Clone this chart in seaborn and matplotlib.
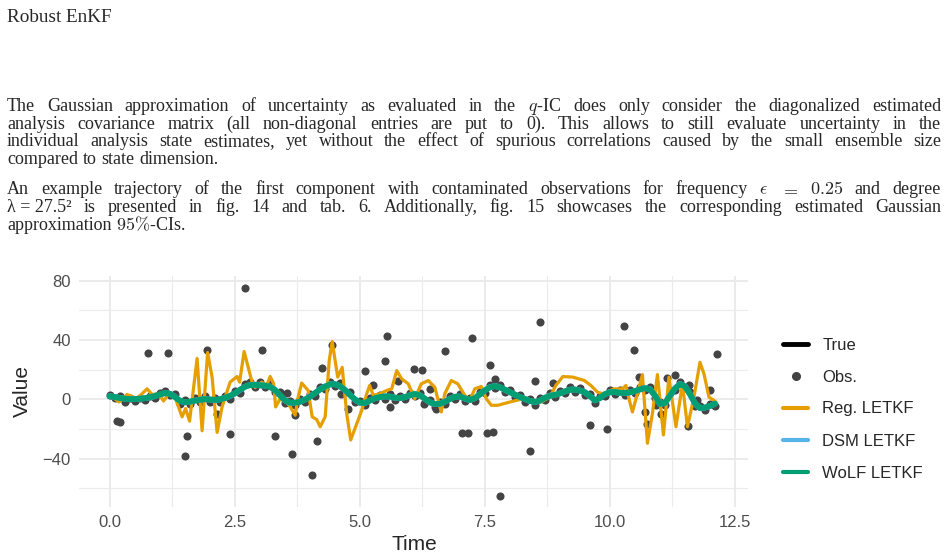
import matplotlib
matplotlib.use("Agg")
import matplotlib.pyplot as plt
from matplotlib.lines import Line2D
import numpy as np
import pandas as pd
import seaborn as sns

# ---- data ----
# true state, first component, on a 0.1 time grid starting at 0.0
truth = [2.5, 2.0, 1.0, 0.3, 0.0, 0.0, 0.2, 0.6, 1.2, 2.0,
         3.2, 4.5, 4.2, 2.0, -1.0, -2.2, -1.5, -0.8, -0.2, 0.3,
         0.0, -0.5, -0.2, 0.8, 2.0, 3.8, 6.2, 8.5, 10.0, 10.2,
         9.8, 9.6, 9.0, 6.8, 3.0, -0.8, -2.5, -2.2, -1.6, -0.2,
         1.8, 4.2, 6.8, 8.8, 10.3, 10.5, 9.2, 6.5, 3.0, -0.2,
         -2.5, -2.6, -0.8, 0.8, 1.5, 2.0, 1.8, 1.0, 0.8, 1.5,
         2.8, 3.8, 2.8, 0.2, -2.2, -3.3, -3.0, -1.5, 0.5, 2.0,
         2.0, 0.5, -0.6, 0.8, 3.5, 6.2, 8.4, 9.2, 8.2, 6.5,
         4.8, 3.2, 1.5, 0.2, -1.2, -2.0, -0.8, 1.2, 2.6, 3.0,
         4.0, 5.5, 6.6, 6.8, 6.0, 4.8, 2.2, -1.0, 0.8, 3.6,
         5.0, 5.0, 4.4, 4.2, 4.6, 5.6, 6.8, 7.8, 7.0, 2.5,
         -3.5, -2.5, 2.5, 7.5, 10.6, 9.0, 3.5, -3.0, -6.2, -5.8,
         -4.6, -3.0]

# observations close to the truth, same grid
obs_near = [3.0, 1.0, 2.0, -1.5, 1.2, -0.8, 1.0, -0.5, 2.5, 0.8,
            4.5, 5.8, 3.0, 3.5, -3.0, -0.5, -3.0, 1.0, -2.0, 2.0,
            -1.8, 1.2, -2.0, 2.5, 0.5, 5.5, 4.5, 10.5, 12.0, 8.5,
            11.5, 8.0, 11.0, 5.0, 4.8, -2.5, -0.8, -4.0, 0.2, -2.0,
            3.5, 2.5, 8.5, 7.0, 12.0, 9.0, 10.8, 5.0, 4.8, -2.0,
            -1.0, -4.0, 0.8, -0.5, 3.0, 0.5, 3.5, -0.5, 2.5, 0.0,
            4.2, 2.2, 4.5, -1.5, -0.5, -5.0, -1.5, -3.2, 2.0, 0.5,
            3.5, -1.0, 1.0, -1.0, 5.0, 4.5, 10.0, 7.5, 10.0, 5.0,
            6.5, 1.5, 3.0, -1.5, 0.2, -3.5, 0.8, -0.5, 4.0, 1.5,
            5.5, 4.0, 8.0, 5.2, 7.5, 3.2, 3.8, -2.5, 2.2, 2.0,
            6.5, 3.5, 6.0, 3.0, 6.0, 4.0, 8.5, 6.2, 8.5, 1.0,
            -2.0, -4.0, 4.0, 6.0, 12.0, 7.5, 5.0, -4.5, -4.8, -7.5,
            -3.0, -4.5]

# contaminated observations (outliers)
out_time = [0.15, 0.21, 0.76, 1.16, 1.51, 1.55, 1.95, 2.15, 2.4, 2.7,
            3.04, 3.31, 3.55, 3.65, 3.71, 4.05, 4.15, 4.25, 4.45, 4.62,
            4.76, 5.1, 5.26, 5.5, 5.55, 5.6, 5.77, 6.09, 6.25, 6.28,
            6.4, 6.53, 6.7, 7.05, 7.16, 7.25, 7.55, 7.6, 7.66, 7.7,
            7.8, 8.41, 8.5, 8.6, 8.87, 9.6, 9.95, 10.29, 10.49, 10.59,
            10.7, 10.75, 10.92, 11.02, 11.15, 11.3, 11.56, 11.59, 11.74, 12.0,
            12.15]
out_value = [-14.5, -15.6, 31.0, 31.0, -38.0, -24.7, 33.4, -9.6, -23.4, 75.4,
             33.2, -24.7, 4.2, -37.0, -10.7, -51.3, -28.3, 21.0, 36.8, 3.3,
             -6.2, 19.0, 9.4, 26.0, 42.8, -5.1, 12.7, 20.3, 19.8, -2.9,
             7.1, -6.5, 32.8, -23.0, -23.0, 41.5, -23.0, 23.2, -21.9, 13.8,
             -65.3, -34.8, 12.5, 52.4, 11.1, -17.6, -20.0, 49.5, 33.4, 15.4,
             -8.5, -16.5, -4.0, -9.6, 14.5, 16.7, -17.8, 9.4, -0.7, 6.0,
             30.5]

# regular LETKF analysis (turning points)
reg_time = [0.02, 0.19, 0.35, 0.55, 0.75, 0.85, 0.98, 1.08, 1.18, 1.32,
            1.45, 1.52, 1.6, 1.75, 1.85, 1.96, 2.05, 2.15, 2.25, 2.41,
            2.55, 2.6, 2.69, 2.84, 2.91, 3.04, 3.14, 3.21, 3.28, 3.32,
            3.41, 3.54, 3.61, 3.71, 3.77, 3.84, 3.97, 4.05, 4.14, 4.21,
            4.31, 4.39, 4.45, 4.56, 4.65, 4.74, 4.82, 5.04, 5.14, 5.2,
            5.27, 5.4, 5.54, 5.64, 5.74, 5.84, 5.97, 6.1, 6.23, 6.37,
            6.5, 6.63, 6.7, 6.83, 6.96, 7.1, 7.2, 7.3, 7.43, 7.53,
            7.63, 7.76, 8.0, 8.26, 8.46, 8.63, 8.8, 8.92, 9.06, 9.26,
            9.49, 9.62, 9.75, 9.85, 10.09, 10.25, 10.32, 10.39, 10.45, 10.55,
            10.65, 10.75, 10.85, 10.95, 11.07, 11.18, 11.32, 11.45, 11.55, 11.68,
            11.8, 11.88, 11.98, 12.08, 12.12]
reg_value = [2.7, -1.8, 3.3, 0.5, 7.1, 3.3, 3.8, -1.1, 3.8, 0.4,
             -11.8, -6.2, -14.7, 27.6, -21.2, 31.6, 15.0, -22.3, -5.0, 11.6,
             15.4, 11.6, 32.3, 12.7, 8.0, 11.6, 9.4, 15.4, 10.5, -5.1,
             0.4, -1.8, -5.0, -10.7, 1.5, 11.0, 6.0, -11.8, -13.6, -18.5,
             -11.8, 26.0, 39.0, 15.0, 21.6, -9.6, -27.4, -7.4, 3.8, 9.4,
             2.7, 3.8, 6.0, 7.1, 19.4, 13.8, 10.5, 0.4, 10.5, 12.7,
             8.2, -8.5, 3.8, 12.7, 10.5, 2.7, -0.7, 7.1, 8.7, 0.4,
             -4.0, -4.0, -1.8, 0.4, -0.7, -1.8, 1.5, 9.4, 15.4, 15.0,
             12.7, 9.4, 4.9, 3.8, 7.1, 7.1, 9.4, -0.7, -8.5, 3.8,
             16.7, -29.6, -9.6, 16.7, -24.0, 15.0, -18.5, 10.5, -18.5, 1.5,
             25.0, 17.2, 1.5, -0.7, -1.8]

# robust filters, same grid as the truth
wolf = [2.0, 1.6, 0.9, 0.5, 0.2, 0.2, 0.4, 0.8, 1.4, 2.2,
        3.3, 4.2, 3.8, 1.8, -0.8, -2.0, -1.6, -0.9, -0.3, 0.1,
        -0.1, -0.4, 0.0, 0.9, 2.2, 4.0, 6.3, 8.4, 9.6, 9.8,
        9.5, 9.3, 8.6, 6.5, 3.0, -0.5, -2.2, -2.3, -1.7, -0.3,
        1.7, 4.0, 6.5, 8.5, 10.0, 10.3, 9.0, 6.5, 3.2, 0.1,
        -2.2, -2.5, -0.9, 0.7, 1.5, 2.0, 1.9, 1.2, 0.9, 1.5,
        2.7, 3.6, 2.8, 0.5, -1.9, -3.1, -3.0, -1.7, 0.2, 1.7,
        1.9, 0.7, -0.4, 0.8, 3.3, 6.0, 8.1, 9.0, 8.2, 6.6,
        4.9, 3.3, 1.6, 0.3, -1.0, -1.8, -0.9, 1.0, 2.4, 3.0,
        4.0, 5.3, 6.4, 6.6, 6.0, 4.8, 2.3, -0.6, 0.9, 3.4,
        4.8, 4.9, 4.4, 4.3, 4.7, 5.6, 6.7, 7.6, 6.8, 2.6,
        -3.0, -2.4, 2.4, 7.3, 10.2, 8.8, 3.6, -2.6, -5.8, -5.5,
        -4.4, -2.9]
dsm = [2.1, 1.7, 1.0, 0.5, 0.2, 0.1, 0.4, 0.8, 1.3, 2.1,
       3.2, 4.2, 3.9, 1.9, -0.8, -2.0, -1.6, -0.9, -0.3, 0.2,
       -0.1, -0.4, -0.1, 0.9, 2.1, 3.9, 6.2, 8.4, 9.7, 9.9,
       9.5, 9.3, 8.7, 6.6, 3.0, -0.6, -2.3, -2.3, -1.7, -0.3,
       1.7, 4.1, 6.6, 8.6, 10.1, 10.3, 9.0, 6.4, 3.1, 0.0,
       -2.3, -2.5, -0.9, 0.7, 1.5, 2.0, 1.8, 1.1, 0.9, 1.5,
       2.7, 3.7, 2.8, 0.4, -2.0, -3.2, -3.0, -1.6, 0.3, 1.8,
       1.9, 0.6, -0.5, 0.8, 3.4, 6.1, 8.2, 9.0, 8.2, 6.5,
       4.8, 3.2, 1.6, 0.3, -1.1, -1.9, -0.9, 1.1, 2.5, 3.0,
       4.0, 5.4, 6.5, 6.7, 6.0, 4.8, 2.2, -0.7, 0.9, 3.5,
       4.9, 4.9, 4.4, 4.2, 4.7, 5.6, 6.7, 7.7, 6.9, 2.5,
       -3.2, -2.5, 2.4, 7.4, 10.4, 8.9, 3.5, -2.8, -6.0, -5.6,
       -4.5, -2.9]

series_labels = ["True", "Obs.", "Reg. LETKF", "DSM LETKF", "WoLF LETKF"]
series_colors = ["black", "#444444", "#E69F00", "#56B4E9", "#009E73"]
x_ticks = [0.0, 2.5, 5.0, 7.5, 10.0, 12.5]
y_ticks = [-40, 0, 40, 80]

grid_time = np.round(np.arange(len(truth)) * 0.1, 2)

obs = pd.DataFrame({"Time": np.concatenate([grid_time, out_time]),
                    "Value": np.concatenate([obs_near, out_value])})
lines = pd.DataFrame({"Time": grid_time, "True": truth, "DSM": dsm, "WoLF": wolf})
reg = pd.DataFrame({"Time": reg_time, "Value": reg_value})

# ---- page text ----
sns.set_theme(style="whitegrid")
plt.rcParams["font.family"] = ["Liberation Sans", "DejaVu Sans"]
plt.rcParams["mathtext.fontset"] = "cm"

W, H = 949, 559
fig = plt.figure(figsize=(W / 100, H / 100), dpi=100)
fig.patch.set_facecolor("white")
serif = ["Liberation Serif", "DejaVu Serif"]
body = 13

fig.text(7 / W, 1 - 22 / H, "Robust EnKF", family=serif, fontsize=13.8,
         va="baseline", ha="left")

renderer = fig.canvas.get_renderer()


def put_line(text, y, justify=True, left=7, right=941):
    words = text.split(" ")
    arts = [fig.text(0, 1 - y / H, w, family=serif, fontsize=body,
                     va="baseline", ha="left") for w in words]
    widths = [a.get_window_extent(renderer).width for a in arts]
    if justify:
        gap = (right - left - sum(widths)) / (len(words) - 1)
    else:
        gap = 0.27 * body * 100 / 72
    x = left
    for a, w in zip(arts, widths):
        a.set_x(x / W)
        x += w + gap


nb = "\u00a0"
para1 = ["The Gaussian approximation of uncertainty as evaluated in the $q$-IC does only consider the diagonalized estimated",
         "analysis covariance matrix (all non-diagonal entries are put to 0). This allows to still evaluate uncertainty in the",
         "individual analysis state estimates, yet without the effect of spurious correlations caused by the small ensemble size",
         "compared to state dimension."]
para2 = ["An example trajectory of the first component with contaminated observations for frequency $\\epsilon$ $=$ $0.25$ and degree",
         f"\u03bb{nb}={nb}27.5\u00b2 is presented in fig. 14 and tab. 6. Additionally, fig. 15 showcases the corresponding estimated Gaussian",
         "approximation $95\\%$-CIs."]

for i, ln in enumerate(para1):
    put_line(ln, 111 + i * 17.6, justify=i < 3)
for i, ln in enumerate(para2):
    put_line(ln, 194.5 + i * 17.8, justify=i < 2)

# ---- chart ----
ax = fig.add_axes([79 / W, 1 - 507 / H, (748 - 79) / W, (507 - 276) / H])
ax.set_facecolor("white")

sns.lineplot(data=lines, x="Time", y="True", color=series_colors[0],
             linewidth=1.5, estimator=None, ax=ax, zorder=2)
sns.scatterplot(data=obs, x="Time", y="Value", color=series_colors[1],
                s=34, linewidth=0, ax=ax, zorder=3)
sns.lineplot(data=reg, x="Time", y="Value", color=series_colors[2],
             linewidth=2.3, estimator=None, ax=ax, zorder=4)
sns.lineplot(data=lines, x="Time", y="DSM", color=series_colors[3],
             linewidth=4.2, estimator=None, ax=ax, zorder=5)
sns.lineplot(data=lines, x="Time", y="WoLF", color=series_colors[4],
             linewidth=4.2, estimator=None, ax=ax, zorder=6)

ax.set_xlim(-0.61, 12.76)
ax.set_ylim(-72.6, 83.2)
ax.set_xticks(x_ticks)
ax.set_xticklabels([f"{v:.1f}" for v in x_ticks])
ax.set_yticks(y_ticks)
ax.set_yticklabels([str(v).replace("-", "\u2212") for v in y_ticks])
ax.set_xticks([1.25, 3.75, 6.25, 8.75, 11.25], minor=True)
ax.set_yticks([-60, -20, 20, 60], minor=True)
ax.grid(which="major", color="#EBEBEB", linewidth=1.4)
ax.grid(which="minor", color="#EBEBEB", linewidth=0.8)
ax.set_axisbelow(True)
ax.tick_params(axis="both", which="both", length=0, labelsize=12,
               labelcolor="#4D4D4D")
ax.tick_params(axis="y", pad=6)
ax.tick_params(axis="x", pad=6)
ax.set_xlabel("")
ax.set_ylabel("")
sns.despine(ax=ax, left=True, bottom=True)

fig.text(22 / W, 1 - 391 / H, "Value", rotation=90, fontsize=15,
         ha="center", va="center")
fig.text(414 / W, 1 - 545 / H, "Time", fontsize=15, ha="center", va="center")

handles = [Line2D([], [], color=series_colors[0], linewidth=3.5),
           Line2D([], [], color=series_colors[1], marker="o", linestyle="none",
                  markersize=5.5),
           Line2D([], [], color=series_colors[2], linewidth=3),
           Line2D([], [], color=series_colors[3], linewidth=3),
           Line2D([], [], color=series_colors[4], linewidth=3)]
ax.legend(handles, series_labels, loc="center left",
          bbox_to_anchor=(783 / W, 1 - 409 / H), bbox_transform=fig.transFigure,
          frameon=False, fontsize=12, handlelength=1.5, handletextpad=0.85,
          labelspacing=1.02, borderpad=0, borderaxespad=0)

fig.savefig("out.png", dpi=100, facecolor="white")
